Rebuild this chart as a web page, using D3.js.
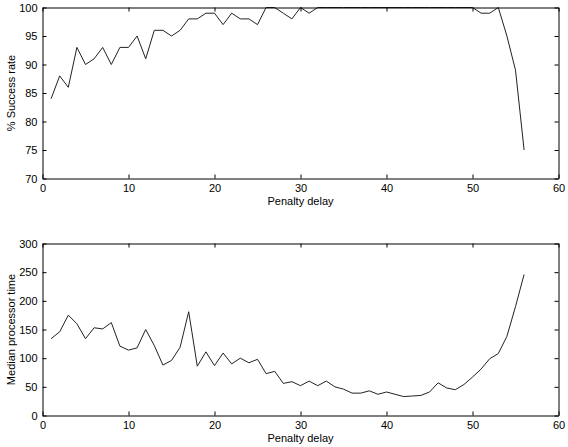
<!DOCTYPE html>
<html>
<head>
<meta charset="utf-8">
<script src="https://cdn.jsdelivr.net/npm/d3@7"></script>
<style>
  body { margin: 0; background: #fff; }
  text { font-family: "Liberation Sans", Arial, sans-serif; font-size: 11px; fill: #000; }
</style>
</head>
<body>
<script>
/* two stacked line plots, matlab style */

var delay = d3.range(1, 57);

var successRate = [84, 88, 86, 93, 90, 91, 93, 90, 93, 93,
                   95, 91, 96, 96, 95, 96, 98, 98, 99, 99,
                   97, 99, 98, 98, 97, 100, 100, 99, 98, 100,
                   99, 100, 100, 100, 100, 100, 100, 100, 100, 100,
                   100, 100, 100, 100, 100, 100, 100, 100, 100, 100,
                   99, 99, 100, 95, 89, 75];

var medianTime = [134, 146, 175, 160, 134, 153, 151, 162, 121, 114,
                  118, 150, 122, 88, 96, 119, 181, 86, 111, 87,
                  109, 90, 100, 92, 98, 73, 77, 56, 59, 52,
                  60, 52, 60, 50, 46, 39, 39, 43, 37, 41,
                  37, 33, 34, 35, 41, 57, 48, 45, 54, 67,
                  81, 99, 108, 138, 190, 246];

var xTicks = [0, 10, 20, 30, 40, 50, 60];
var yTicksTop = [70, 75, 80, 85, 90, 95, 100];
var yTicksBottom = [0, 50, 100, 150, 200, 250, 300];

var svg = d3.select("body").append("svg")
    .attr("width", 568)
    .attr("height", 447);

var left = 42.5, right = 558.5;

function drawPanel(top, bottom, yDomain, yTicks, values, yLabel) {
    var x = d3.scaleLinear().domain([0, 60]).range([left, right]);
    var y = d3.scaleLinear().domain(yDomain).range([bottom, top]);
    var g = svg.append("g");

    // plot line, clipped to box
    var clipId = "clip" + Math.round(top);
    g.append("clipPath").attr("id", clipId)
        .append("rect")
        .attr("x", left).attr("y", top - 1)
        .attr("width", right - left).attr("height", bottom - top + 2);

    var line = d3.line()
        .x(function(d, i) { return x(delay[i]); })
        .y(function(d) { return y(d); });

    g.append("path")
        .datum(values)
        .attr("d", line)
        .attr("fill", "none")
        .attr("stroke", "#222")
        .attr("stroke-width", 1)
        .attr("clip-path", "url(#" + clipId + ")");

    // axes with inward ticks on all sides
    g.append("g").attr("transform", "translate(0," + bottom + ")")
        .call(d3.axisBottom(x).tickValues(xTicks).tickSizeInner(-4).tickSizeOuter(0).tickPadding(6));
    g.append("g").attr("transform", "translate(0," + top + ")")
        .call(d3.axisTop(x).tickValues(xTicks).tickSizeInner(-4).tickSizeOuter(0).tickFormat(""));
    g.append("g").attr("transform", "translate(" + left + ",0)")
        .call(d3.axisLeft(y).tickValues(yTicks).tickSizeInner(-4).tickSizeOuter(0).tickPadding(5));
    g.append("g").attr("transform", "translate(" + right + ",0)")
        .call(d3.axisRight(y).tickValues(yTicks).tickSizeInner(-4).tickSizeOuter(0).tickFormat(""));

    g.selectAll(".domain").attr("stroke", "#000");
    g.selectAll(".tick line").attr("stroke", "#000");
    g.selectAll(".tick text")
        .style("font-family", "'Liberation Sans', Arial, sans-serif")
        .style("font-size", "11px")
        .attr("fill", "#000");

    g.append("text")
        .attr("x", (left + right) / 2)
        .attr("y", bottom + 26)
        .attr("text-anchor", "middle")
        .text("Penalty delay");

    g.append("text")
        .attr("transform", "translate(15," + ((top + bottom) / 2) + ") rotate(-90)")
        .attr("text-anchor", "middle")
        .text(yLabel);
}

drawPanel(7.5, 178.5, [70, 100], yTicksTop, successRate, "% Success rate");
drawPanel(243.5, 415.5, [0, 300], yTicksBottom, medianTime, "Median processor time");
</script>
</body>
</html>
